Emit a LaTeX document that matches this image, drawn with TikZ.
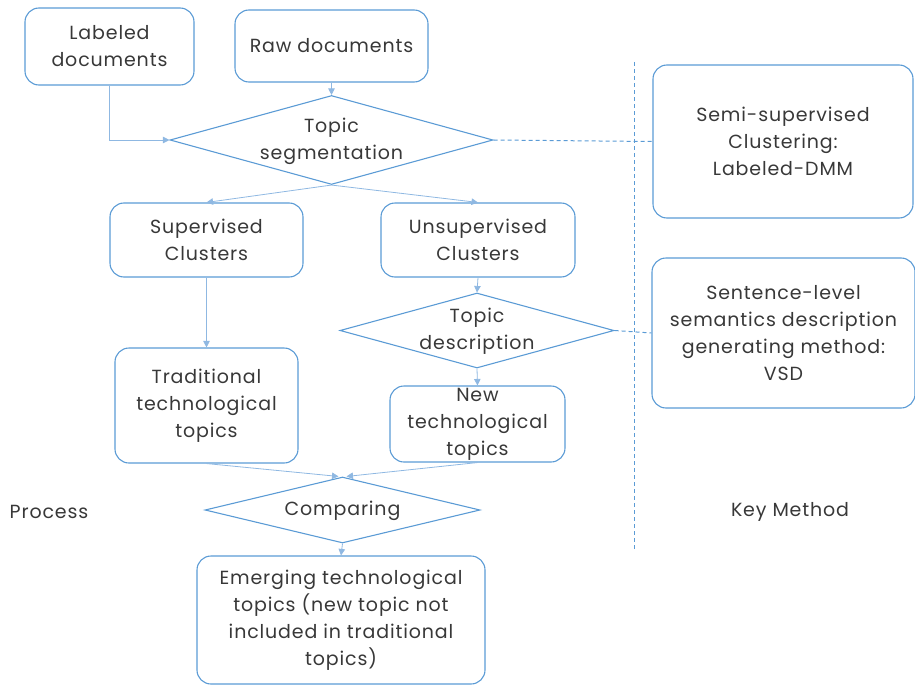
\documentclass[tikz,border=0pt]{standalone}
\usepackage{fontspec}
\setmainfont{Poppins}[LetterSpace=4.5]
\usetikzlibrary{shapes.geometric,arrows.meta}
\definecolor{bblue}{HTML}{5B9BD5}
\definecolor{lblue}{HTML}{8FB8E2}
\begin{document}
\begin{tikzpicture}[x=1pt,y=-1pt,
 txt/.style={font=\fontsize{19}{27}\selectfont, text=black!78, align=center},
 box/.style={txt, draw=bblue, line width=1.1pt, rounded corners=14pt, inner sep=0pt},
 dia/.style={draw=bblue, line width=1.1pt, diamond, inner sep=0pt},
 conn/.style={draw=lblue, line width=0.8pt, -{Triangle[length=6.5pt,width=6.5pt]}},
 dconn/.style={draw=bblue, line width=1pt, dash pattern=on 4pt off 3pt}]
\useasboundingbox (0,0) rectangle (915,685);
\node[box, minimum width=169pt, minimum height=77pt] (lab) at (109.5,46.5) {Labeled\\documents};
\node[box, minimum width=193pt, minimum height=72pt] (raw) at (331.5,46) {Raw documents};
\node[dia, minimum width=323pt, minimum height=89pt] (ts) at (331.5,140) {};
\node[txt] (tst) at ([yshift=-1pt]ts.center) {Topic\\segmentation};
\node[box, minimum width=260pt, minimum height=153pt] (semi) at (783,141.5) {Semi-supervised\\Clustering:\\Labeled-DMM};
\node[box, minimum width=193pt, minimum height=74pt] (sup) at (206.5,240) {Supervised\\Clusters};
\node[box, minimum width=194pt, minimum height=74pt] (uns) at (478,240) {Unsupervised\\Clusters};
\node[box, minimum width=183pt, minimum height=115pt] (trad) at (206.5,405.5) {Traditional\\technological\\topics};
\node[dia, minimum width=274pt, minimum height=75pt] (td) at (477,330.5) {};
\node[txt] (tdt) at ([yshift=-1pt]td.center) {Topic\\description};
\node[box, minimum width=263pt, minimum height=150pt] (vsd) at (783.5,333) {Sentence-level\\semantics description\\generating method:\\VSD};
\node[box, minimum width=175pt, minimum height=76pt] (new) at (477.5,424) {New\\technological\\topics};
\node[dia, minimum width=275pt, minimum height=66pt] (cmp) at (342.5,510) {};
\node[txt] (cmpt) at ([yshift=-1pt]cmp.center) {Comparing};
\node[box, minimum width=288pt, minimum height=128pt] (em) at (341,620) {Emerging technological\\topics (new topic not\\included in traditional\\topics)};
\node[txt] (proc) at (49,512) {Process};
\node[txt] (key) at (790,512) {Key Method};
\coordinate (vtop) at (634,62);
\coordinate (vbot) at (634,550);
\draw[conn] (raw.south) -- (ts.north);
\draw[conn] (lab.south) |- (ts.west);
\draw[conn] (ts.south) -- (sup.north);
\draw[conn] (ts.south) -- (uns.north);
\draw[conn] (sup.south) -- (trad.north);
\draw[conn] (uns.south) -- (td.north);
\draw[conn] (td.south) -- (new.north);
\draw[conn] (trad.south) -- ([xshift=-4pt]cmp.north);
\draw[conn] (new.south) -- ([xshift=4pt]cmp.north);
\draw[conn] (cmp.south) -- (em.north);
\draw[dconn] (ts.east) -- (semi.west);
\draw[dconn] (td.east) -- (vsd.west);
\draw[dconn] (vtop) -- (vbot);
\end{tikzpicture}
\end{document}
